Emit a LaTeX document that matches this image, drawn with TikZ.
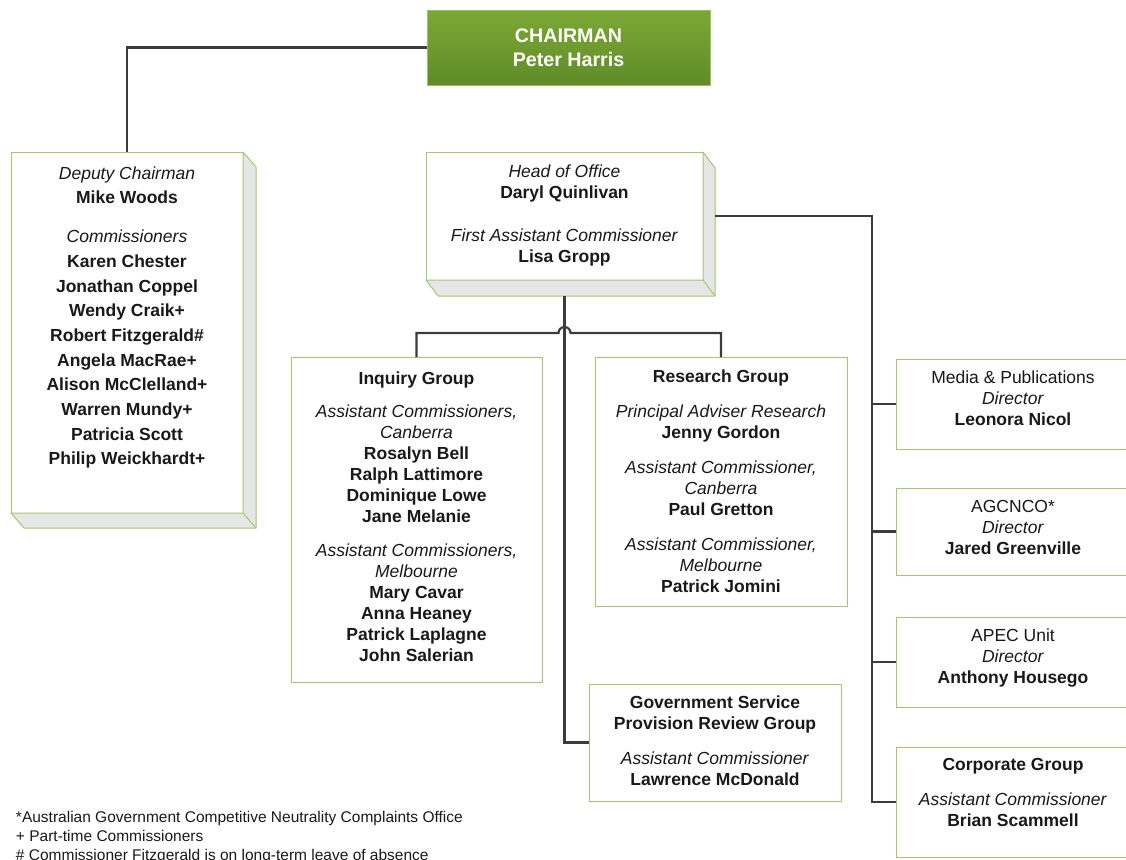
\documentclass[tikz,border=0pt]{standalone}
\usepackage{fontspec}
\setmainfont{Liberation Sans}
\usepackage{tikz}
\usetikzlibrary{arrows}
\definecolor{boxline}{RGB}{162,201,112}
\definecolor{sideface}{RGB}{230,230,230}
\definecolor{linkgray}{RGB}{60,60,60}
\definecolor{chairtop}{RGB}{124,168,54}
\definecolor{chairbot}{RGB}{96,140,40}
\definecolor{inktext}{RGB}{25,25,25}

\begin{document}
\begin{tikzpicture}[x=0.6pt,y=0.6pt]
\tikzstyle{every node}+=[inner sep=0pt, outer sep=0pt, text=inktext, align=center, font=\fontsize{10.5}{12.6}\selectfont]
\tikzstyle{box}=[draw=boxline, line width=0.6pt, fill=white]
\tikzstyle{side}=[draw=boxline, line width=0.6pt, fill=sideface, line join=round]
\tikzstyle{link}=[draw=linkgray, line width=1.3pt]

\useasboundingbox (0,0) rectangle (1126,-859);
\clip (0,0) rectangle (1126,-859);

\draw (568.5,-47.5) node [box, draw=boxline!80!chairtop, top color=chairtop, bottom color=chairbot, text=white, minimum width=169.8pt, minimum height=45pt, font=\fontsize{11.8}{14.4}\selectfont\bfseries] (chair) {CHAIRMAN\\Peter Harris};

\draw (127,-332.5) node [box, minimum width=139.2pt, minimum height=216.6pt] (deputy) {};
\draw (127,-317.5) node [font=\fontsize{10.5}{14.8}\selectfont] (deputytext) {\textit{Deputy Chairman}\\\textbf{Mike Woods}\\[8.6pt]\textit{Commissioners}\\\textbf{Karen Chester}\\\textbf{Jonathan Coppel}\\\textbf{Wendy Craik+}\\\textbf{Robert Fitzgerald\#}\\\textbf{Angela MacRae+}\\\textbf{Alison McClelland+}\\\textbf{Warren Mundy+}\\\textbf{Patricia Scott}\\\textbf{Philip Weickhardt+}};
\filldraw [side] (deputy.north east) -- ([shift={(13,-15)}]deputy.north east) -- ([shift={(13,-15)}]deputy.south east) -- ([shift={(13,-15)}]deputy.south west) -- (deputy.south west) -- (deputy.south east) -- cycle;
\draw [side] (deputy.south east) -- ([shift={(13,-15)}]deputy.south east);

\draw (564.5,-216) node [box, minimum width=166.2pt, minimum height=76.8pt, text depth=3pt] (head) {\textit{Head of Office}\\\textbf{Daryl Quinlivan}\\[13.2pt]\textit{First Assistant Commissioner}\\\textbf{Lisa Gropp}};
\filldraw [side] (head.north east) -- ([shift={(12,-16)}]head.north east) -- ([shift={(12,-16)}]head.south east) -- ([shift={(12,-16)}]head.south west) -- (head.south west) -- (head.south east) -- cycle;
\draw [side] (head.south east) -- ([shift={(12,-16)}]head.south east);

\draw (416.5,-519.5) node [box, minimum width=150.6pt, minimum height=195pt, text depth=3.5pt] (inquiry) {\textbf{Inquiry Group}\\[7.6pt]\textit{Assistant Commissioners,}\\\textit{Canberra}\\\textbf{Rosalyn Bell}\\\textbf{Ralph Lattimore}\\\textbf{Dominique Lowe}\\\textbf{Jane Melanie}\\[7.6pt]\textit{Assistant Commissioners,}\\\textit{Melbourne}\\\textbf{Mary Cavar}\\\textbf{Anna Heaney}\\\textbf{Patrick Laplagne}\\\textbf{John Salerian}};

\draw (721,-481.5) node [box, minimum width=151.2pt, minimum height=149.4pt] (research) {\textbf{Research Group}\\[8.4pt]\textit{Principal Adviser Research}\\\textbf{Jenny Gordon}\\[8.4pt]\textit{Assistant Commissioner,}\\\textit{Canberra}\\\textbf{Paul Gretton}\\[8.4pt]\textit{Assistant Commissioner,}\\\textit{Melbourne}\\\textbf{Patrick Jomini}};

\draw (715,-742.5) node [box, minimum width=151.2pt, minimum height=70.2pt, text depth=2pt] (govservice) {\textbf{Government Service}\\\textbf{Provision Review Group}\\[8.4pt]\textit{Assistant Commissioner}\\\textbf{Lawrence McDonald}};

\draw (1013,-404) node [box, minimum width=140.4pt, minimum height=54pt, text depth=6.5pt] (media) {Media \& Publications\\\textit{Director}\\\textbf{Leonora Nicol}};
\draw (1013,-531.5) node [box, minimum width=140.4pt, minimum height=52.2pt, text depth=5.5pt] (agcnco) {AGCNCO*\\\textit{Director}\\\textbf{Jared Greenville}};
\draw (1013,-662) node [box, minimum width=140.4pt, minimum height=54pt, text depth=7.5pt] (apec) {APEC Unit\\\textit{Director}\\\textbf{Anthony Housego}};
\draw (1013,-802) node [box, minimum width=140.4pt, minimum height=66pt, text depth=11pt] (corporate) {\textbf{Corporate Group}\\[8.4pt]\textit{Assistant Commissioner}\\\textbf{Brian Scammell}};

\draw (16,-811) node [anchor=north west, align=left, font=\fontsize{9.3}{11.4}\selectfont] (notes) {*Australian Government Competitive Neutrality Complaints Office\\+ Part-time Commissioners\\\# Commissioner Fitzgerald is on long-term leave of absence};

\coordinate (hop) at (564.5,-333);
\coordinate (trunk) at (872,-216);

\draw [link] (chair.west) -| (deputy.north);
\draw [link] ([yshift=-9.6pt]head.south) |- (govservice.west);
\draw [link] (inquiry.north) |- ([xshift=-3.6pt]hop) arc [start angle=180, end angle=0, radius=3.6pt] -| (research.north);
\draw [link] ([xshift=7.2pt]head.east) -- (trunk) |- (corporate.west);
\draw [link] (trunk |- media.west) -- (media.west);
\draw [link] (trunk |- agcnco.west) -- (agcnco.west);
\draw [link] (trunk |- apec.west) -- (apec.west);
\end{tikzpicture}
\end{document}
